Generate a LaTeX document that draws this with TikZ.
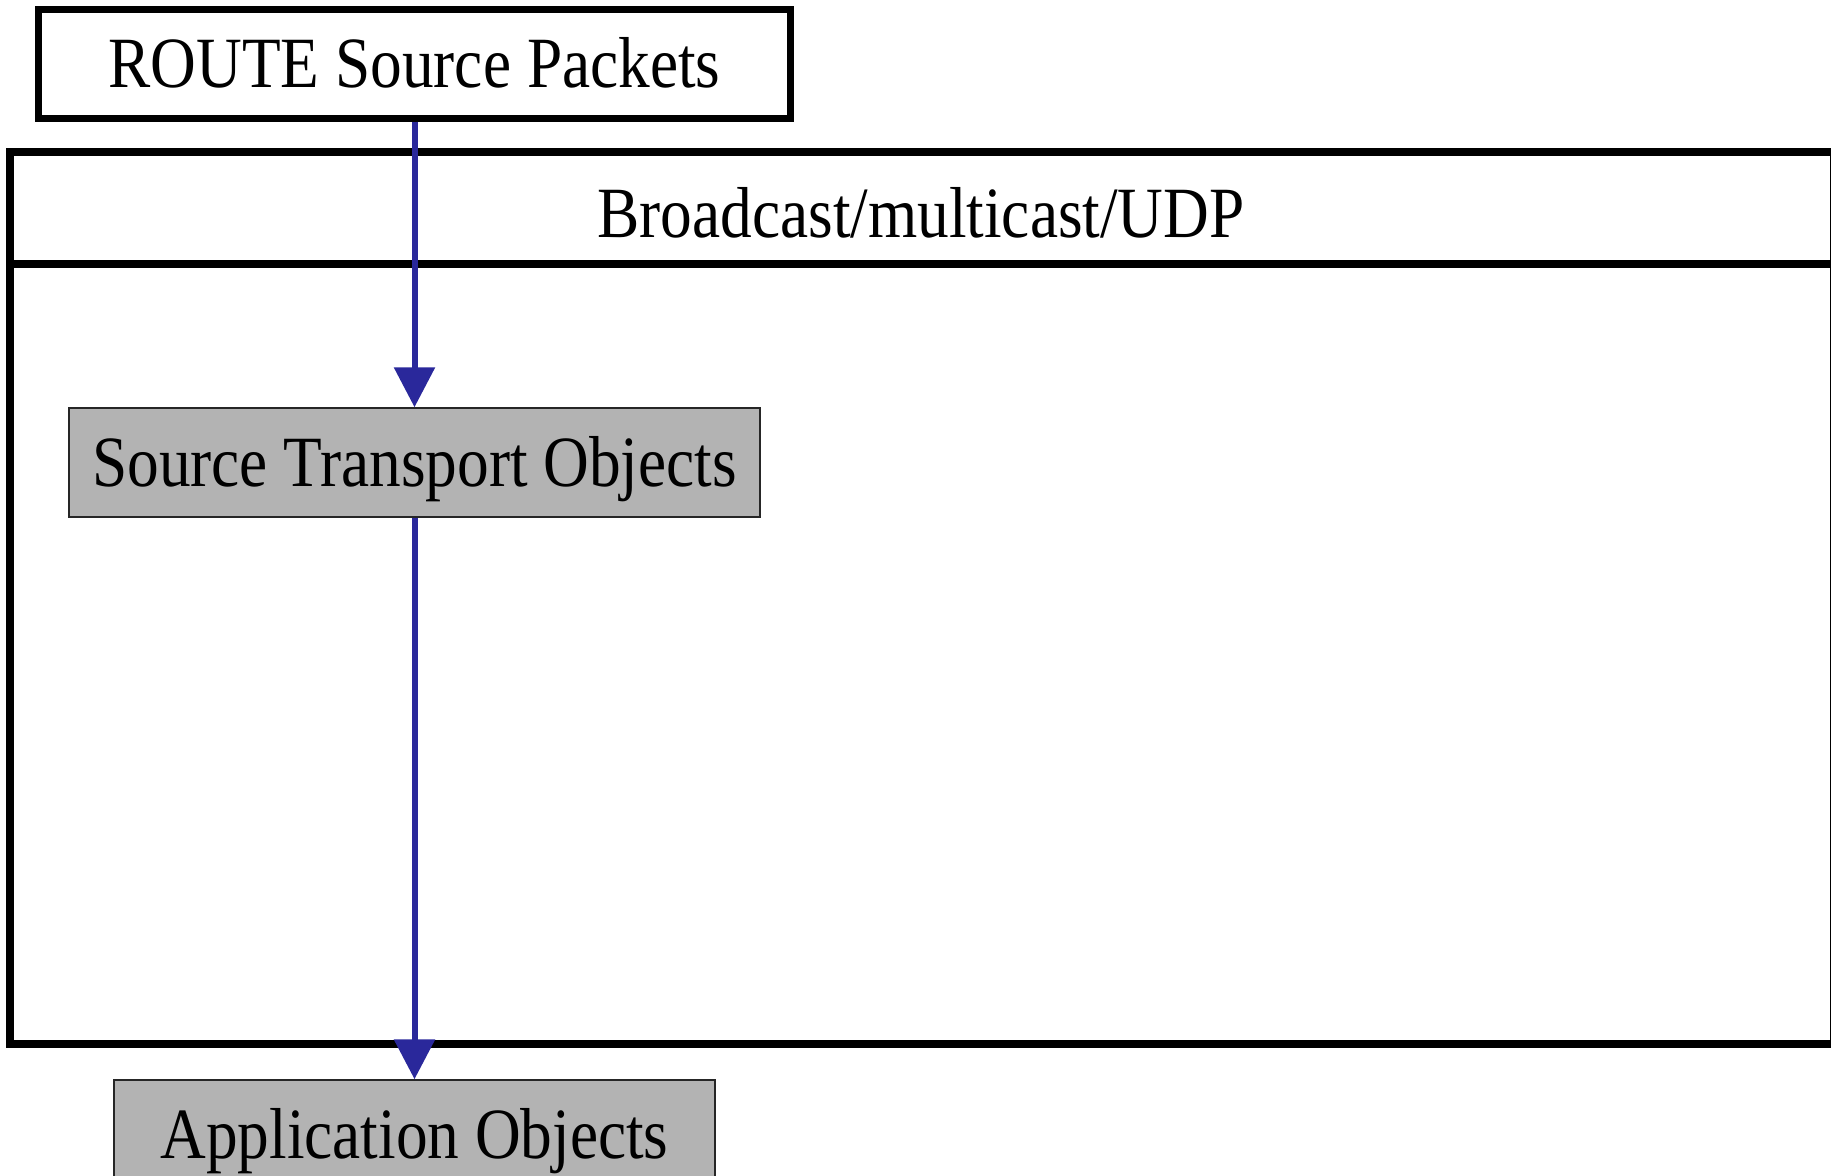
\documentclass[tikz,border=0pt]{standalone}
\usepackage{fontspec}
\usepackage{graphicx}
\setmainfont{Liberation Serif}
\usetikzlibrary{arrows.meta}
\definecolor{flowblue}{RGB}{42,40,155}
\definecolor{objgray}{RGB}{179,179,179}
% labels are set slightly taller than the font's natural shape
\newcommand\talltext[1]{\scalebox{1}[1.14]{#1}}
\tikzset{
  label font/.style={font=\fontsize{31.65pt}{38pt}\selectfont,
    text height=24pt, text depth=0pt},
  framebox/.style={draw=black, line width=3.5pt, fill=white, inner sep=0pt,
    minimum height=54.5pt, label font},
  objbox/.style={draw=black!85, line width=0.75pt, fill=objgray, inner sep=0pt,
    minimum height=54.5pt, label font},
  flow/.style={draw=flowblue, line width=3pt, -{Triangle[length=20pt,width=20pt]}}
}
\begin{document}
\begin{tikzpicture}[x=0.5pt,y=-0.5pt]
  \useasboundingbox (0,0) rectangle (1831,1175);
  \begin{scope}
    \clip (0,0) rectangle (1831,1175);
    % protocol layer frame with its header strip
    \draw[line width=4pt] (10,152) rectangle (1834,1044);
    \draw[line width=4pt] (10,264) -- (1834,264);
    \node[label font, inner sep=0pt] (hdr) at (921,213) {\talltext{Broadcast/multicast/UDP}};
    % boxes
    \node[framebox, minimum width=376pt] (route) at (414.5,63.5) {\talltext{ROUTE Source Packets}};
    \node[objbox, minimum width=345.5pt] (sto) at (414.5,462.5) {\talltext{Source Transport Objects}};
    \node[objbox, minimum width=300.5pt] (app) at (414.5,1134.5) {\talltext{Application Objects}};
    % data flow
    \draw[flow] (route.south) -- (sto.north);
    \draw[flow] (sto.south) -- (app.north);
  \end{scope}
\end{tikzpicture}
\end{document}
